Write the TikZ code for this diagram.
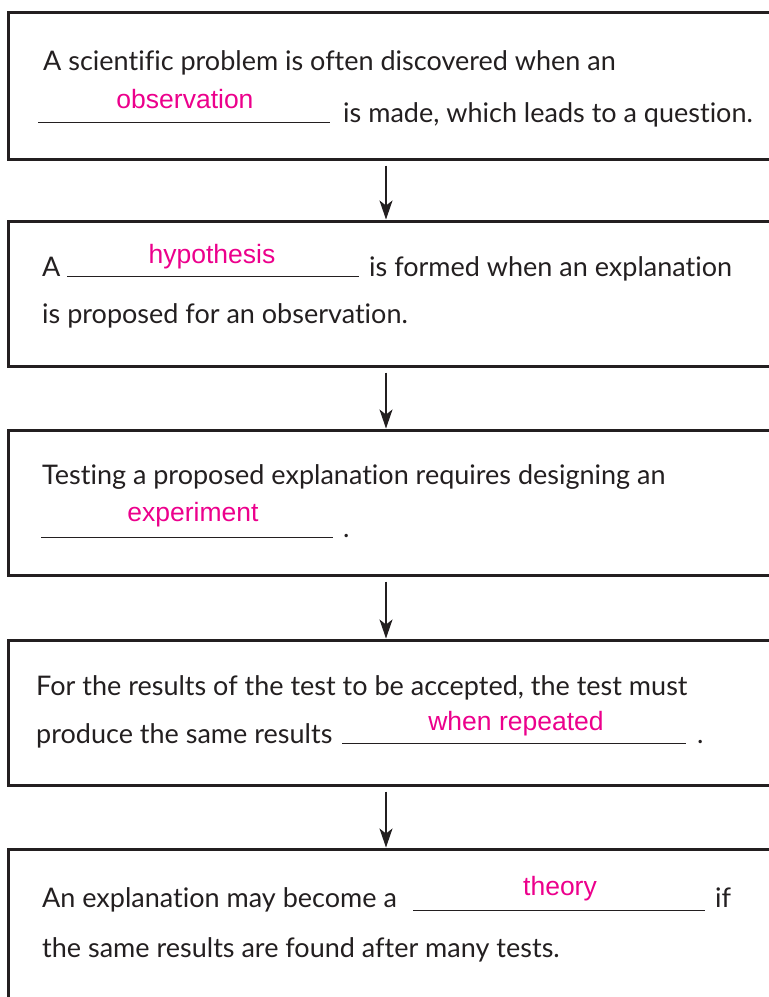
\documentclass[tikz,border=0pt]{standalone}
\usepackage{fontspec}
\setmainfont{Lato}[Ligatures={NoCommon}]
\newfontfamily\pinkfont{Liberation Sans}
\usetikzlibrary{arrows.meta}
\definecolor{ink}{HTML}{231F20}
\definecolor{pinkans}{HTML}{EC008C}
\tikzset{
  box/.style={draw=ink, line width=3pt, rectangle, inner sep=0pt},
  txt/.style={anchor=base west, inner sep=0pt, text=ink, font=\fontsize{27}{30}\selectfont},
  ans/.style={anchor=base, inner sep=0pt, text=pinkans, font=\pinkfont\fontsize{26.5}{30}\selectfont},
  blank/.style={draw=ink, line width=0.9pt},
  arr/.style={draw=ink, line width=1.2pt, -{Stealth[length=19pt,width=13pt,inset=5pt]}}
}
\begin{document}
\begin{tikzpicture}[x=1pt,y=-1pt]
\useasboundingbox (0,0) rectangle (769,997);
\clip (0,0) rectangle (769,997);
% boxes
\node[box, minimum width=767pt, minimum height=147pt] (b1) at (391.5,85.5) {};
\node[box, minimum width=767pt, minimum height=145pt] (b2) at (391.5,293.5) {};
\node[box, minimum width=767pt, minimum height=145pt] (b3) at (391.5,502.5) {};
\node[box, minimum width=767pt, minimum height=145pt] (b4) at (391.5,712.5) {};
\node[box, minimum width=767pt, minimum height=170pt] (b5) at (391.5,934) {};
\coordinate (ax) at (386,0);
% arrows
\draw[arr] ([yshift=-5pt]b1.south -| ax) -- (b2.north -| ax);
\draw[arr] ([yshift=-5pt]b2.south -| ax) -- (b3.north -| ax);
\draw[arr] ([yshift=-5pt]b3.south -| ax) -- (b4.north -| ax);
\draw[arr] ([yshift=-5pt]b4.south -| ax) -- (b5.north -| ax);
% box 1
\node[txt] (t11) at (43,70) {A scientific problem is often discovered when an};
\coordinate (u1a) at (38,122); \coordinate (u1b) at (330,122);
\draw[blank] (u1a) -- (u1b);
\node[ans] (a1) at (185,108) {observation};
\node[txt] (t12) at (343,122) {is made, which leads to a question.};
% box 2
\node[txt] (t21) at (42,276) {A};
\coordinate (u2a) at (67,276); \coordinate (u2b) at (359,276);
\draw[blank] (u2a) -- (u2b);
\node[ans] (a2) at (212,263) {hypothesis};
\node[txt] (t22) at (369,276) {is formed when an explanation};
\node[txt] (t23) at (42,323) {is proposed for an observation.};
% box 3
\node[txt] (t31) at (42,484) {Testing a proposed explanation requires designing an};
\coordinate (u3a) at (41,537); \coordinate (u3b) at (333,537);
\draw[blank] (u3a) -- (u3b);
\node[ans] (a3) at (193,521) {experiment};
\node[txt] (t32) at (343,537) {.};
% box 4
\node[txt] (t41) at (36,695) {For the results of the test to be accepted, the test must};
\node[txt] (t42) at (36,743) {produce the same results};
\coordinate (u4a) at (342,743); \coordinate (u4b) at (686,743);
\draw[blank] (u4a) -- (u4b);
\node[ans] (a4) at (516,730) {when repeated};
\node[txt] (t43) at (697,743) {.};
% box 5
\node[txt] (t51) at (42,907) {An explanation may become a};
\coordinate (u5a) at (413,910); \coordinate (u5b) at (705,910);
\draw[blank] (u5a) -- (u5b);
\node[ans] (a5) at (560,895) {theory};
\node[txt] (t52) at (715,907) {if};
\node[txt] (t53) at (42,957) {the same results are found after many tests.};
\end{tikzpicture}
\end{document}
